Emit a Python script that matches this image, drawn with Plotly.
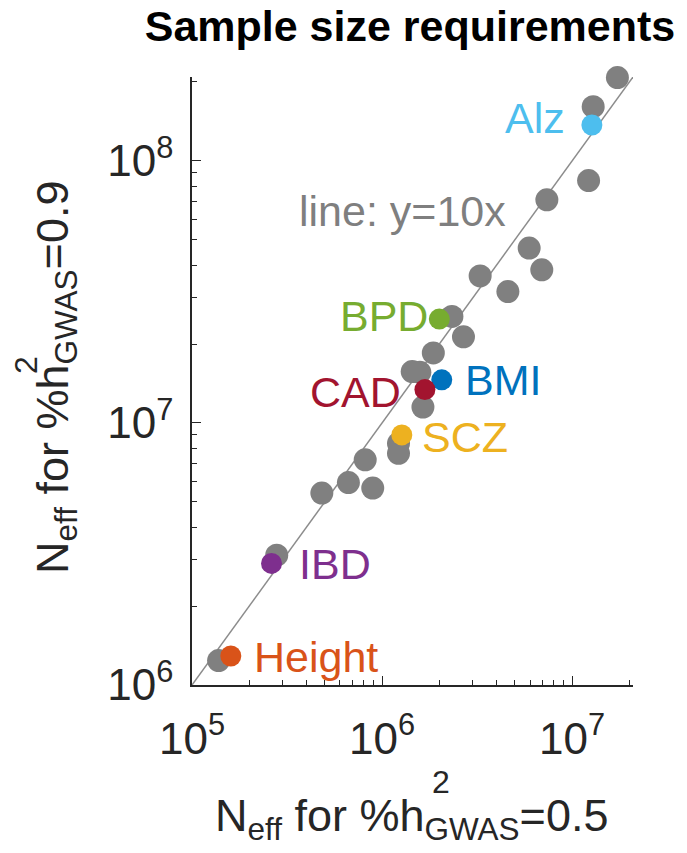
import plotly.graph_objects as go
import math

# ---------------- data ----------------
gray_x = [1.73e7, 1.29e7, 1.22e7, 7.36e6, 5.94e6, 6.92e6, 3.28e6, 4.59e6, 2.33e6, 2.68e6,
          1.86e6, 1.44e6, 1.58e6, 1.64e6, 1.22e6, 1.22e6, 8.15e5, 6.65e5, 8.93e5, 4.82e5,
          2.79e5, 1.38e5]
gray_y = [2.08e8, 1.61e8, 8.41e7, 7.10e7, 4.65e7, 3.84e7, 3.64e7, 3.17e7, 2.55e7, 2.13e7,
          1.85e7, 1.57e7, 1.56e7, 1.15e7, 8.36e6, 7.66e6, 7.23e6, 5.92e6, 5.64e6, 5.40e6,
          3.13e6, 1.24e6]

traits = ["Alz", "BPD", "BMI", "CAD", "SCZ", "IBD", "Height"]
trait_x = [1.27e7, 2.00e6, 2.06e6, 1.68e6, 1.27e6, 2.62e5, 1.60e5]
trait_y = [1.37e8, 2.49e7, 1.46e7, 1.34e7, 9.0e6, 2.91e6, 1.29e6]
trait_colors = ["#4DBEEE", "#77AC30", "#0072BD", "#A2142F", "#EDB120", "#7E2F8E", "#D95319"]
label_side = ["left", "left", "right", "left", "right", "right", "right"]

line_x = [1e5, 2.1e7]
line_slope = 10

x_ticks = [1e5, 1e6, 1e7]
x_ticktext = ["10<sup>5</sup>", "10<sup>6</sup>", "10<sup>7</sup>"]
y_ticks = [1e6, 1e7, 1e8]
y_ticktext = ["10<sup>6</sup>", "10<sup>7</sup>", "10<sup>8</sup>"]

title = "Sample size requirements"
FONT = "Liberation Sans, Arial, Helvetica, sans-serif"
AX = "#262626"

# ---------------- layout geometry ----------------
W, H = 687, 853
L, R, T, B = 192, 54, 77, 168
pw, ph = W - L - R, H - T - B


def px(xp):
    return (xp - L) / pw


def py(yp):
    return (H - B - yp) / ph


fig = go.Figure()

# reference line y = 10x
fig.add_trace(go.Scatter(
    x=line_x, y=[v * line_slope for v in line_x], mode="lines",
    line=dict(color="#8c8c8c", width=1.5), hoverinfo="skip", showlegend=False,
    cliponaxis=False))

# gray points
fig.add_trace(go.Scatter(
    x=gray_x, y=gray_y, mode="markers",
    marker=dict(size=23, color="#808080", line=dict(width=0)),
    showlegend=False, cliponaxis=False))

# highlighted traits
fig.add_trace(go.Scatter(
    x=trait_x, y=trait_y, mode="markers",
    marker=dict(size=21, color=trait_colors, line=dict(width=0)),
    showlegend=False, cliponaxis=False))

# trait labels
xshifts = {"Alz": -25, "BPD": -9, "BMI": 21, "CAD": -22, "SCZ": 18, "IBD": 25, "Height": 21}
yshifts = {"Alz": 7, "BPD": 3, "BMI": 0, "CAD": -2, "SCZ": -2, "IBD": -1, "Height": -1}
for name, xv, yv, c, side in zip(traits, trait_x, trait_y, trait_colors, label_side):
    fig.add_annotation(
        x=math.log10(xv), y=math.log10(yv), xref="x", yref="y",
        text=name, showarrow=False,
        xanchor="right" if side == "left" else "left", yanchor="middle",
        xshift=xshifts[name], yshift=yshifts[name],
        font=dict(family=FONT, size=43, color=c))

# line text
fig.add_annotation(x=px(402), y=py(211), xref="paper", yref="paper",
                   text="line: y=10x", showarrow=False, xanchor="center", yanchor="middle",
                   font=dict(family=FONT, size=43, color="#7f7f7f"))

# x-axis title (with stacked super/subscript)
fig.add_annotation(x=px(411), y=py(818), xref="paper", yref="paper",
                   text="N<sub>eff</sub> for %h<sub>GWAS</sub>=0.5", showarrow=False,
                   xanchor="center", yanchor="middle",
                   font=dict(family=FONT, size=45, color="#262626"))
fig.add_annotation(x=px(430), y=py(782), xref="paper", yref="paper",
                   text="2", showarrow=False, xanchor="left", yanchor="middle",
                   font=dict(family=FONT, size=32, color="#262626"))

# y-axis title (rotated)
fig.add_annotation(x=px(55), y=py(378), xref="paper", yref="paper",
                   text="N<sub>eff</sub> for %h<sub>GWAS</sub>=0.9", showarrow=False,
                   textangle=-90, xanchor="center", yanchor="middle",
                   font=dict(family=FONT, size=45, color="#262626"))
fig.add_annotation(x=px(26), y=py(376), xref="paper", yref="paper",
                   text="2", showarrow=False, textangle=-90, xanchor="center", yanchor="bottom",
                   font=dict(family=FONT, size=32, color="#262626"))

axis_common = dict(
    type="log", showgrid=False, zeroline=False,
    showline=True, linecolor=AX, linewidth=1.5,
    ticks="inside", ticklen=9, tickwidth=1.3, tickcolor=AX,
    tickfont=dict(family=FONT, size=44, color="#262626"),
    minor=dict(ticks="inside", ticklen=5, tickwidth=1, tickcolor=AX, dtick="D1", showgrid=False),
    mirror=False,
)

fig.update_layout(
    width=W, height=H,
    margin=dict(l=L, r=R, t=T, b=B, pad=0),
    paper_bgcolor="white", plot_bgcolor="white",
    title=dict(text="<b>" + title + "</b>", x=410 / W, xanchor="center", xref="container",
               y=1 - 26 / H, yanchor="middle", yref="container",
               font=dict(family=FONT, size=43, color="black")),
    xaxis=dict(range=[5, 7.32], tickvals=x_ticks, ticktext=x_ticktext,
               ticklabelstandoff=14, **axis_common),
    yaxis=dict(range=[6, 8.32], tickvals=y_ticks, ticktext=y_ticktext,
               ticklabelstandoff=8, **axis_common),
    showlegend=False,
)

fig.write_html("out.html")
